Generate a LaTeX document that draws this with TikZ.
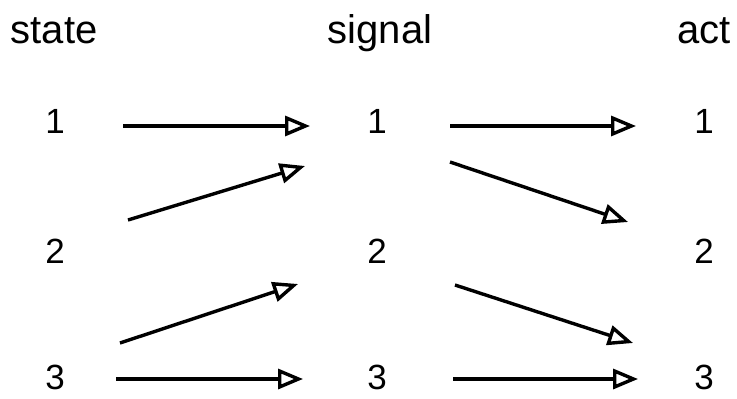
\documentclass[tikz,border=0pt]{standalone}
\usepackage{fontspec}
\setmainfont{Liberation Sans}
\usetikzlibrary{arrows.meta}
\begin{document}
\begin{tikzpicture}[x=1pt,y=-1pt,
  head/.style={font=\fontsize{40}{42}\selectfont,anchor=base,inner sep=0pt},
  num/.style={font=\fontsize{35}{37}\selectfont,anchor=base,inner sep=0pt},
  link/.style={line width=3.4pt,-{Triangle[open,length=25pt,width=20pt,line width=3.4pt]}}]
\useasboundingbox (0,0) rectangle (737,399);
% column headings
\node[head] (hs) at (54,43) {state};
\node[head] (hg) at (380,43) {signal};
\node[head] (ha) at (704,43) {act};
% states
\node[num] (s1) at (55,133) {1};
\node[num] (s2) at (55,263) {2};
\node[num] (s3) at (55,389) {3};
% signals
\node[num] (g1) at (377,133) {1};
\node[num] (g2) at (377,263) {2};
\node[num] (g3) at (377,389) {3};
% acts
\node[num] (a1) at (704,133) {1};
\node[num] (a2) at (704,263) {2};
\node[num] (a3) at (704,389) {3};
% arrow ends
\coordinate (p1) at (123,126); \coordinate (q1) at (310,126);
\coordinate (p2) at (128,220); \coordinate (q2) at (305,166);
\coordinate (p3) at (120,343); \coordinate (q3) at (298,284);
\coordinate (p4) at (116,379); \coordinate (q4) at (303,379);
\coordinate (p5) at (450,126); \coordinate (q5) at (636,126);
\coordinate (p6) at (450,162); \coordinate (q6) at (628,222);
\coordinate (p7) at (455,285); \coordinate (q7) at (633,343);
\coordinate (p8) at (453,379); \coordinate (q8) at (638,379);
\foreach \i in {1,...,8} \draw[link] (p\i) -- (q\i);
\end{tikzpicture}
\end{document}
